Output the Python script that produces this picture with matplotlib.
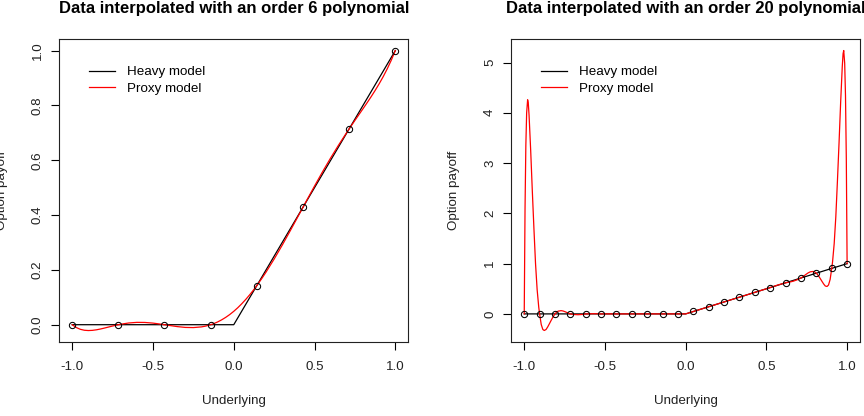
import numpy as np
import matplotlib
matplotlib.use('Agg')
import matplotlib.pyplot as plt

plt.rcParams['font.family'] = ['Liberation Sans', 'DejaVu Sans']
plt.rcParams['axes.unicode_minus'] = False

# heavy model (payoff) drawn as a line, same in both panels
heavy_x = [-1.0, 0.0, 1.0]
heavy_y = [0.0, 0.0, 1.0]

# sample points, left panel (8 points)
pts6_x = [-1.0, -0.714, -0.429, -0.143, 0.143, 0.429, 0.714, 1.0]
pts6_y = [0.0, 0.0, 0.0, 0.0, 0.143, 0.429, 0.714, 1.0]

# proxy curve, order 6 polynomial
proxy6_x = [-1.0, -0.975, -0.95, -0.925, -0.9, -0.875, -0.85, -0.825, -0.8, -0.75,
            -0.714, -0.7, -0.65, -0.6, -0.55, -0.5, -0.45, -0.429, -0.4, -0.35,
            -0.3, -0.25, -0.2, -0.175, -0.143, -0.125, -0.1, -0.075, -0.05, -0.025,
            0.0, 0.025, 0.05, 0.075, 0.1, 0.125, 0.143, 0.175, 0.2, 0.25,
            0.3, 0.35, 0.4, 0.429, 0.45, 0.5, 0.55, 0.6, 0.65, 0.7,
            0.714, 0.75, 0.8, 0.825, 0.85, 0.875, 0.9, 0.925, 0.95, 0.975, 1.0]
proxy6_y = [0.0, -0.0102, -0.0167, -0.0202, -0.0213, -0.0206, -0.0186, -0.0157, -0.0122, -0.0048,
            0.0, 0.0017, 0.0063, 0.0085, 0.0082, 0.0058, 0.0019, 0.0, -0.0026, -0.0069,
            -0.0099, -0.0105, -0.0080, -0.0052, 0.0, 0.0037, 0.0100, 0.0177, 0.0267, 0.0370,
            0.0488, 0.0620, 0.0767, 0.0927, 0.1100, 0.1287, 0.1429, 0.1698, 0.1920, 0.2395,
            0.2901, 0.3431, 0.3974, 0.4286, 0.4519, 0.5058, 0.5582, 0.6085, 0.6563, 0.7017,
            0.7143, 0.7452, 0.7878, 0.8093, 0.8314, 0.8544, 0.8787, 0.9048, 0.9333, 0.9648, 1.0]

# sample points, right panel (22 points)
pts20_x = [-1.0, -0.905, -0.810, -0.714, -0.619, -0.524, -0.429, -0.333, -0.238, -0.143, -0.048,
           0.048, 0.143, 0.238, 0.333, 0.429, 0.524, 0.619, 0.714, 0.810, 0.905, 1.0]
pts20_y = [0, 0, 0, 0, 0, 0, 0, 0, 0, 0, 0,
           0.048, 0.143, 0.238, 0.333, 0.429, 0.524, 0.619, 0.714, 0.810, 0.905, 1.0]

# proxy curve, order 20 polynomial
proxy20_x = [-1.0, -0.995, -0.99, -0.985, -0.979, -0.975, -0.97, -0.96, -0.95, -0.94,
             -0.93, -0.92, -0.91, -0.9048, -0.8948, -0.8848, -0.8758, -0.8648, -0.8548, -0.8448,
             -0.8348, -0.8248, -0.8148, -0.8095, -0.7995, -0.7895, -0.772, -0.7595, -0.7445, -0.7295,
             -0.7143, -0.69, -0.667, -0.643, -0.619, -0.57, -0.524, 0.0,
             0.524, 0.57, 0.619, 0.643, 0.667, 0.69, 0.7143, 0.7295, 0.7445, 0.7595,
             0.772, 0.7895, 0.7995, 0.8095, 0.8148, 0.8248, 0.8348, 0.8448, 0.8548, 0.8648,
             0.8758, 0.8848, 0.8948, 0.9048, 0.91, 0.92, 0.93, 0.94, 0.95, 0.96,
             0.97, 0.975, 0.979, 0.985, 0.99, 0.995, 1.0]
proxy20_y = [0.0, 2.1, 3.35, 4.0, 4.26, 4.2, 3.95, 3.25, 2.45, 1.7,
             1.0, 0.48, 0.13, 0.0, -0.21, -0.31, -0.33, -0.31, -0.26, -0.2,
             -0.138, -0.078, -0.025, 0.0, 0.035, 0.055, 0.065, 0.058, 0.04, 0.018,
             0.0, -0.012, -0.016, -0.011, 0.0, 0.004, 0.0, 0.0,
             0.524, 0.574, 0.619, 0.632, 0.651, 0.678, 0.7143, 0.7475, 0.7845, 0.8175,
             0.837, 0.8445, 0.8345, 0.8095, 0.7898, 0.7468, 0.6968, 0.6448, 0.5948, 0.5548,
             0.5458, 0.5748, 0.6848, 0.9048, 1.04, 1.40, 1.93, 2.64, 3.40, 4.21,
             4.92, 5.175, 5.239, 4.985, 4.34, 3.095, 1.0]

fs = 9.6
fig = plt.figure(figsize=(8.64, 4.16), dpi=100)
ax1 = fig.add_axes([0.0686, 0.1786, 0.4039, 0.7269])
ax2 = fig.add_axes([0.5918, 0.1786, 0.4036, 0.7269])

panels = [
    (ax1, pts6_x, pts6_y, proxy6_x, proxy6_y, 'Data interpolated with an order 6 polynomial',
     (-0.062, 1.041), [0.0, 0.2, 0.4, 0.6, 0.8, 1.0], ['0.0', '0.2', '0.4', '0.6', '0.8', '1.0']),
    (ax2, pts20_x, pts20_y, proxy20_x, proxy20_y, 'Data interpolated with an order 20 polynomial',
     (-0.553, 5.462), [0, 1, 2, 3, 4, 5], ['0', '1', '2', '3', '4', '5']),
]

for ax, px, py, cx, cy, title, ylim, yt, ytl in panels:
    ax.plot(px, py, 'o', ms=4.5, mfc='none', mec='black', mew=0.75, zorder=3)
    ax.plot(heavy_x, heavy_y, color='black', lw=0.9, label='Heavy model')
    ax.plot(cx, cy, color='red', lw=0.9, label='Proxy model')
    ax.set_xlim(-1.08, 1.08)
    ax.set_ylim(*ylim)
    ax.set_xticks([-1.0, -0.5, 0.0, 0.5, 1.0])
    ax.set_xticklabels(['-1.0', '-0.5', '0.0', '0.5', '1.0'])
    ax.set_yticks(yt)
    ax.set_yticklabels(ytl, rotation=90, va='center')
    ax.tick_params(axis='both', direction='out', length=5.5, width=0.8, labelsize=fs,
                   colors='black', labelcolor='#222222')
    ax.tick_params(axis='x', pad=8.5)
    ax.tick_params(axis='y', pad=5.5)
    for s in ax.spines.values():
        s.set_linewidth(0.8)
        s.set_color('#222222')
    ax.set_title(title, fontsize=12, fontweight='bold', pad=18.7)
    ax.text(0.5, -0.197, 'Underlying', transform=ax.transAxes, ha='center', va='center',
            fontsize=fs, color='#222222')
    ax.text(-0.163, 0.5, 'Option payoff', transform=ax.transAxes, ha='center', va='center',
            rotation=90, fontsize=fs, color='#222222')
    ax.legend(loc='upper left', bbox_to_anchor=(0.086, 0.912), frameon=False, fontsize=fs,
              handlelength=1.93, handletextpad=0.875, labelspacing=0.3, borderpad=0,
              borderaxespad=0)

fig.savefig('out.png', dpi=100)
